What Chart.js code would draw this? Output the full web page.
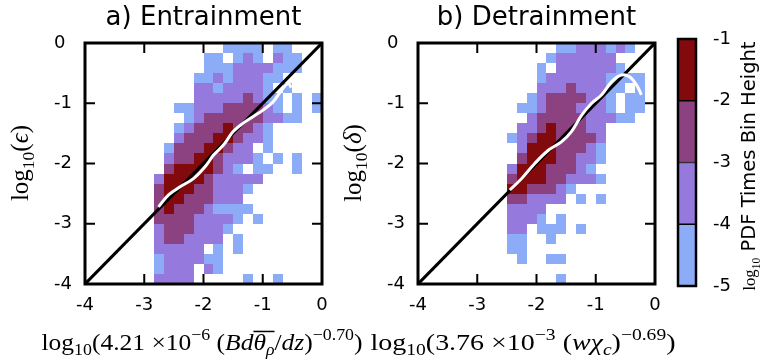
<!DOCTYPE html>
<html>
<head>
<meta charset="utf-8">
<script src="https://cdn.jsdelivr.net/npm/chart.js@4.4.0/dist/chart.umd.min.js"></script>
<style>
  html, body { margin: 0; padding: 0; background: #fff; }
  #wrap { position: relative; width: 760px; height: 360px; }
  canvas { position: absolute; left: 0; top: 0; }
</style>
</head>
<body>
<div id="wrap">
  <canvas id="entr" width="760" height="360"></canvas>
  <canvas id="detr" width="760" height="360"></canvas>
  <canvas id="cbar" width="760" height="360"></canvas>
</div>
<script>
// axis ticks (log10 units) and colour levels
var axisTicks = [-4, -3, -2, -1, 0];
var levelBounds = [-5, -4, -3, -2, -1];
var levelColors = ['#8dacf8', '#9579dc', '#8c4281', '#830a0c'];

// 2D histograms, 24x24 bins of 1/6 decade, top row first (y 0 -> -4), x from -4 to 0
// '.' = empty, 1..4 = colour level (1 = -5..-4, 4 = -2..-1)
var binSize = 1 / 6;
var entRows = [
  "..............1111.11...",
  "............11.121.211..",
  "............1112222111..",
  "...........112122211....",
  "...........22122221.1...",
  "...........222223211.1.1",
  ".........11222333321.1.1",
  "..........123333332211..",
  ".........1233343321.....",
  ".........2333443221.....",
  "........133344322.1.....",
  "........2334432221.1.1..",
  "........34444321.11..1..",
  ".......24444322222......",
  ".......3444332221.......",
  ".......344333222........",
  ".......3433321111.......",
  ".......333322221.1......",
  ".......23332221.........",
  ".......2332222.1........",
  ".......22222.1.1........",
  ".......1222211..........",
  ".......1222.21..........",
  ".......2222.....1..1...."
];
var detRows = [
  "..............11222121..",
  ".............1222222....",
  "............1.2222221...",
  "............12222221111.",
  "............222322211.1.",
  "...........123333221.11.",
  "..........1123332221.11.",
  "...........23333322211..",
  "..........223433322.....",
  ".........1234433332.....",
  "..........244433321.....",
  "..........344433221.....",
  ".........244433321......",
  ".........3444332221.....",
  ".........4433321........",
  ".........332222.1.1.....",
  ".........2222...........",
  ".........2221.1.........",
  ".........22.111.1.......",
  ".........11..1..........",
  ".........11.............",
  "..........1..11.........",
  "........................",
  "..............1........."
];

// binned mean curves (white)
var entCurveX = [-2.76, -2.59, -2.40, -2.17, -1.97, -1.83, -1.66, -1.50, -1.33, -1.16, -0.99, -0.82, -0.68, -0.57, -0.52];
var entCurveY = [-2.72, -2.52, -2.39, -2.25, -2.05, -1.86, -1.69, -1.47, -1.33, -1.22, -1.11, -0.97, -0.78, -0.67, -0.74];
var detCurveX = [-2.45, -2.25, -2.03, -1.80, -1.58, -1.41, -1.24, -1.07, -0.90, -0.73, -0.57, -0.43, -0.31, -0.23];
var detCurveY = [-2.44, -2.25, -2.00, -1.78, -1.64, -1.47, -1.20, -1.00, -0.86, -0.64, -0.53, -0.56, -0.70, -0.86];

// one-to-one line
var oneToOne = [-4, 0];

var SANS = '"DejaVu Sans", sans-serif';
var SERIF = '"Liberation Serif", serif';

// mathtext-like label: parts with italic / sub / sup / overline,
// optionally stretched a little to a target width
function drawRich(ctx, parts, cx, cy, fs, rot, target) {
  ctx.save();
  ctx.translate(cx, cy);
  if (rot) ctx.rotate(rot);
  var total = 0;
  var items = parts.map(function (p) {
    var size = fs * (p.s || 1) * ((p.sub || p.sup) ? 0.7 : 1);
    var font = (p.i ? 'italic ' : '') + size + 'px ' + (p.sans ? SANS : SERIF);
    ctx.font = font;
    var w = ctx.measureText(p.t).width;
    total += w;
    return { p: p, font: font, w: w };
  });
  if (target) ctx.scale(target / total, 1);
  var xx = -total / 2;
  var base = fs * 0.33;
  ctx.textAlign = 'left';
  ctx.textBaseline = 'alphabetic';
  ctx.fillStyle = '#000';
  items.forEach(function (it) {
    ctx.font = it.font;
    var dy = base;
    if (it.p.sub) dy += fs * 0.22;
    if (it.p.sup) dy -= fs * 0.42;
    ctx.fillText(it.p.t, xx, dy);
    if (it.p.over) ctx.fillRect(xx, base - fs * 0.8, it.w, 1.5);
    xx += it.w;
  });
  ctx.restore();
}

var panelPlugin = {
  id: 'panel',
  beforeDatasetsDraw: function (chart, args, o) {
    var ctx = chart.ctx, a = chart.chartArea, x = chart.scales.x, y = chart.scales.y;
    ctx.save();
    ctx.beginPath();
    ctx.rect(a.left, a.top, a.width, a.height);
    ctx.clip();
    o.rows.forEach(function (row, r) {
      for (var c = 0; c < row.length; c++) {
        var ch = row[c];
        if (ch === '.') continue;
        var x0 = Math.round(x.getPixelForValue(x.min + c * binSize));
        var x1 = Math.round(x.getPixelForValue(x.min + (c + 1) * binSize));
        var y0 = Math.round(y.getPixelForValue(y.max - r * binSize));
        var y1 = Math.round(y.getPixelForValue(y.max - (r + 1) * binSize));
        ctx.fillStyle = levelColors[+ch - 1];
        ctx.fillRect(x0, y0, x1 - x0, y1 - y0);
      }
    });
    ctx.restore();
  },
  afterDraw: function (chart, args, o) {
    var ctx = chart.ctx, a = chart.chartArea, x = chart.scales.x, y = chart.scales.y;
    ctx.save();
    ctx.strokeStyle = '#000';
    ctx.lineWidth = 2;
    ctx.beginPath();
    axisTicks.forEach(function (v) {
      var px = x.getPixelForValue(v), py = y.getPixelForValue(v);
      ctx.moveTo(px, a.bottom); ctx.lineTo(px, a.bottom - 10);
      ctx.moveTo(px, a.top); ctx.lineTo(px, a.top + 10);
      ctx.moveTo(a.left, py); ctx.lineTo(a.left + 10, py);
      ctx.moveTo(a.right, py); ctx.lineTo(a.right - 10, py);
    });
    ctx.stroke();
    ctx.lineWidth = 3;
    ctx.strokeRect(a.left, a.top, a.width, a.height);
    ctx.fillStyle = '#000';
    ctx.font = '26px ' + SANS;
    ctx.textAlign = 'center';
    ctx.textBaseline = 'middle';
    ctx.fillText(o.title, (a.left + a.right) / 2, 18);
    ctx.restore();
    drawRich(ctx, o.xLabel, o.xLabelX, 342, 24, 0, o.xLabelW);
    drawRich(ctx, o.yLabel, a.left - 65, 163, 25, -Math.PI / 2);
  }
};

function panel(id, rows, cx, cy, padLeft, title, xLabel, xLabelX, xLabelW, yLabel) {
  var pts = cx.map(function (v, i) { return { x: v, y: cy[i] }; });
  return new Chart(document.getElementById(id), {
    type: 'scatter',
    data: {
      datasets: [
        { data: pts, showLine: true, borderColor: '#fff', borderWidth: 3, pointRadius: 0, tension: 0.35, order: 0 },
        { data: oneToOne.map(function (v) { return { x: v, y: v }; }), showLine: true, borderColor: '#000', borderWidth: 3, pointRadius: 0, order: 1 }
      ]
    },
    options: {
      responsive: false,
      animation: false,
      events: [],
      layout: { padding: { left: padLeft, right: 760 - padLeft - 31 - 237, top: 43, bottom: 0 } },
      plugins: {
        legend: { display: false },
        tooltip: { enabled: false },
        panel: { rows: rows, title: title, xLabel: xLabel, xLabelX: xLabelX, xLabelW: xLabelW, yLabel: yLabel }
      },
      scales: {
        x: {
          type: 'linear', min: -4, max: 0,
          afterBuildTicks: function (s) { s.ticks = axisTicks.map(function (v) { return { value: v }; }); },
          afterFit: function (s) { s.height = 76; },
          grid: { display: false, drawTicks: false },
          border: { display: false },
          ticks: { color: '#000', font: { family: SANS, size: 18 }, padding: 11, maxRotation: 0 }
        },
        y: {
          type: 'linear', min: -4, max: 0,
          afterBuildTicks: function (s) { s.ticks = axisTicks.map(function (v) { return { value: v }; }); },
          afterFit: function (s) { s.width = 31; },
          grid: { display: false, drawTicks: false },
          border: { display: false },
          ticks: { color: '#000', font: { family: SANS, size: 18 }, crossAlign: 'far' }
        }
      }
    },
    plugins: [panelPlugin]
  });
}

panel('entr', entRows, entCurveX, entCurveY, 54, 'a) Entrainment',
  [{ t: 'log' }, { t: '10', sub: 1 }, { t: '(4.21 \u00d710' }, { t: '\u22126', sup: 1 }, { t: ' (' },
   { t: 'Bd', i: 1 }, { t: '\u03b8', i: 1, over: 1 }, { t: '\u03c1', i: 1, sub: 1, over: 1 }, { t: '/' },
   { t: 'dz', i: 1 }, { t: ')' }, { t: '\u22120.70', sup: 1 }, { t: ')' }],
  202, 321,
  [{ t: 'log' }, { t: '10', sub: 1 }, { t: '(' }, { t: '\u03f5', i: 1 }, { t: ')' }]);

panel('detr', detRows, detCurveX, detCurveY, 387, 'b) Detrainment',
  [{ t: 'log' }, { t: '10', sub: 1 }, { t: '(3.76 \u00d710' }, { t: '\u22123', sup: 1 }, { t: ' (' },
   { t: 'w', i: 1 }, { t: '\u03c7', i: 1 }, { t: 'c', i: 1, sub: 1 }, { t: ')' }, { t: '\u22120.69', sup: 1 }, { t: ')' }],
  523, 305,
  [{ t: 'log' }, { t: '10', sub: 1 }, { t: '(' }, { t: '\u03b4', i: 1 }, { t: ')' }]);

// colour bar
var cbarPlugin = {
  id: 'cbarFrame',
  afterDraw: function (chart) {
    var ctx = chart.ctx, a = chart.chartArea;
    ctx.save();
    ctx.strokeStyle = '#000';
    ctx.lineWidth = 2.5;
    ctx.strokeRect(a.left, a.top, a.width, a.height);
    ctx.restore();
    drawRich(ctx, [{ t: 'log', s: 0.85 }, { t: '10', sub: 1, s: 0.85 }, { t: ' PDF Times Bin Height', sans: 1 }],
      749, 166, 19.5, -Math.PI / 2);
  }
};

new Chart(document.getElementById('cbar'), {
  type: 'bar',
  data: {
    labels: [''],
    datasets: levelColors.map(function (c, i) {
      return {
        data: [[levelBounds[i], levelBounds[i + 1]]],
        backgroundColor: c, borderColor: '#000', borderWidth: 1, borderSkipped: false,
        grouped: false, barPercentage: 1, categoryPercentage: 1
      };
    })
  },
  options: {
    responsive: false,
    animation: false,
    events: [],
    layout: { padding: { left: 678, right: 0, top: 39, bottom: 74 } },
    plugins: { legend: { display: false }, tooltip: { enabled: false } },
    scales: {
      x: { display: false },
      y: {
        position: 'right', min: -5, max: -1,
        afterBuildTicks: function (s) { s.ticks = levelBounds.map(function (v) { return { value: v }; }); },
        afterFit: function (s) { s.width = 64; },
        grid: { display: false, drawTicks: false },
        border: { display: false },
        ticks: { color: '#000', font: { family: SANS, size: 18 }, padding: 17 }
      }
    }
  },
  plugins: [cbarPlugin]
});
</script>
</body>
</html>
